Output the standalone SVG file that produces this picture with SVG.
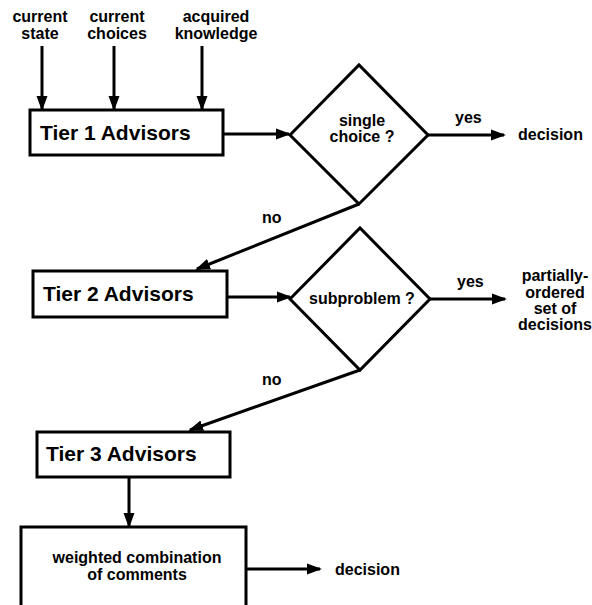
<svg xmlns="http://www.w3.org/2000/svg" width="592" height="605" viewBox="0 0 592 605">
<style>
text{font-family:"Liberation Sans",Arial,Helvetica,sans-serif;font-weight:bold;fill:#000}
.lbl{font-size:16px}
.big{font-size:21px}
.mid{text-anchor:middle}
.box{fill:#fff;stroke:#000;stroke-width:3}
.ln{fill:none;stroke:#000;stroke-width:3;marker-end:url(#ah)}
</style>
<defs>
<marker id="ah" markerUnits="userSpaceOnUse" markerWidth="15" markerHeight="12" refX="13" refY="6" orient="auto">
<path d="M0,0.5 L15,6 L0,11.5 z" fill="#000"/>
</marker>
</defs>
<rect width="592" height="605" fill="#fff"/>
<g id="inputs">
<text class="lbl mid" x="40" y="22">current</text>
<text class="lbl mid" x="40" y="39">state</text>
<text class="lbl mid" x="117" y="22">current</text>
<text class="lbl mid" x="117" y="39">choices</text>
<text class="lbl mid" x="216" y="22">acquired</text>
<text class="lbl mid" x="216" y="39">knowledge</text>
</g>
<g id="connectors">
<line class="ln" x1="42" y1="46" x2="42" y2="109"/>
<line class="ln" x1="114" y1="46" x2="114" y2="109"/>
<line class="ln" x1="202" y1="46" x2="202" y2="109"/>
<line class="ln" x1="223" y1="134" x2="289" y2="134"/>
<line class="ln" x1="428" y1="135" x2="504" y2="135"/>
<line class="ln" x1="359" y1="204" x2="197" y2="269"/>
<line class="ln" x1="227" y1="297" x2="290" y2="297"/>
<line class="ln" x1="430" y1="299" x2="505" y2="299"/>
<line class="ln" x1="360" y1="370" x2="190" y2="430"/>
<line class="ln" x1="129" y1="478" x2="129" y2="526"/>
<line class="ln" x1="246" y1="569" x2="320" y2="569"/>
<text class="lbl" x="455" y="123">yes</text>
<text class="lbl" x="262" y="223">no</text>
<text class="lbl" x="457" y="287">yes</text>
<text class="lbl" x="262" y="385">no</text>
</g>
<g id="tier1">
<rect class="box" x="30" y="110" width="193" height="45"/>
<text class="big" x="40" y="140">Tier 1 Advisors</text>
</g>
<g id="single-choice">
<polygon class="box" points="290,135 359,65 428,135 359,204"/>
<text class="lbl mid" x="362" y="126">single</text>
<text class="lbl mid" x="362" y="142">choice ?</text>
</g>
<g id="decision1">
<text class="lbl" x="518" y="140">decision</text>
</g>
<g id="tier2">
<rect class="box" x="33" y="271" width="194" height="46"/>
<text class="big" x="43" y="301">Tier 2 Advisors</text>
</g>
<g id="subproblem">
<polygon class="box" points="290,299 360,228 430,299 360,370"/>
<text class="lbl mid" x="362" y="304">subproblem ?</text>
</g>
<g id="partial-decisions">
<text class="lbl mid" x="555" y="281">partially-</text>
<text class="lbl mid" x="555" y="298">ordered</text>
<text class="lbl mid" x="555" y="314">set of</text>
<text class="lbl mid" x="555" y="330">decisions</text>
</g>
<g id="tier3">
<rect class="box" x="37" y="432" width="193" height="45"/>
<text class="big" x="46" y="461">Tier 3 Advisors</text>
</g>
<g id="combination">
<rect class="box" x="21" y="527" width="225" height="90"/>
<text class="lbl mid" x="137" y="563">weighted combination</text>
<text class="lbl mid" x="137" y="580">of comments</text>
</g>
<g id="decision2">
<text class="lbl" x="335" y="575">decision</text>
</g>
</svg>
